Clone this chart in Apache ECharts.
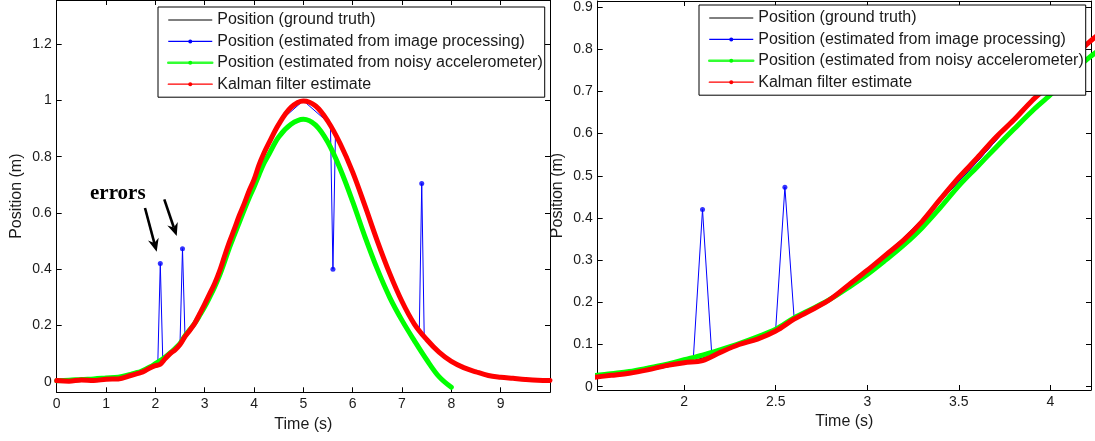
<!DOCTYPE html>
<html><head><meta charset="utf-8">
<script src="https://cdn.jsdelivr.net/npm/echarts@6/dist/echarts.min.js"></script>
<style>html,body{margin:0;padding:0;background:#fff}#c{width:1095px;height:441px}</style>
</head><body><div id="c"></div>
<script>
// ---------- data ----------
const seriesNames = ['Position (ground truth)', 'Position (estimated from image processing)', 'Position (estimated from noisy accelerometer)', 'Kalman filter estimate'];
const time = [0,0.25,0.5,0.75,1,1.25,1.5,1.6,1.7,1.8,1.9,2,2.1,2.2,2.3,2.4,2.5,2.6,2.7,2.8,2.9,3,3.1,3.2,3.3,3.4,3.5,3.6,3.7,3.8,3.9,4,4.1,4.2,4.3,4.5,4.75,5,5.25,5.5,5.75,6,6.25,6.5,6.75,7,7.25,7.5,7.75,8,8.25,8.5,8.75,9,9.25,9.5,9.75,10];
const truth = [0.000,0.001,0.002,0.003,0.006,0.011,0.020,0.024,0.030,0.038,0.046,0.056,0.068,0.081,0.097,0.114,0.134,0.158,0.183,0.212,0.243,0.277,0.314,0.354,0.396,0.440,0.486,0.533,0.582,0.630,0.678,0.726,0.771,0.814,0.855,0.923,0.980,1.000,0.980,0.923,0.840,0.740,0.620,0.495,0.382,0.282,0.203,0.148,0.104,0.071,0.049,0.034,0.022,0.015,0.011,0.007,0.005,0.003];
const kalman = [0.004,0.002,0.006,0.004,0.009,0.010,0.022,0.027,0.032,0.040,0.050,0.057,0.062,0.082,0.100,0.113,0.132,0.160,0.183,0.208,0.242,0.276,0.312,0.348,0.392,0.445,0.496,0.542,0.590,0.632,0.678,0.718,0.770,0.812,0.848,0.915,0.975,0.998,0.980,0.925,0.845,0.745,0.625,0.500,0.385,0.285,0.205,0.150,0.105,0.072,0.050,0.035,0.022,0.016,0.012,0.008,0.005,0.004];
const accelTime = [0,0.25,0.5,0.75,1,1.25,1.5,1.6,1.7,1.8,1.9,2,2.1,2.2,2.3,2.4,2.5,2.6,2.7,2.8,2.9,3,3.1,3.2,3.3,3.4,3.5,3.6,3.7,3.8,3.9,4,4.1,4.2,4.3,4.5,4.75,5,5.25,5.5,5.75,6,6.25,6.5,6.75,7,7.25,7.5,7.75,8];
const accel = [0.003,0.005,0.008,0.010,0.013,0.016,0.026,0.031,0.036,0.044,0.053,0.064,0.075,0.088,0.102,0.118,0.136,0.163,0.185,0.208,0.236,0.266,0.300,0.336,0.377,0.425,0.476,0.521,0.566,0.610,0.653,0.692,0.735,0.776,0.808,0.870,0.915,0.933,0.912,0.850,0.755,0.640,0.515,0.400,0.300,0.218,0.146,0.078,0.018,-0.020];
const imgTime = [0,0.5,1,1.5,2,2.05,2.1,2.15,2.2,2.3,2.4,2.5,2.55,2.6,2.7,2.8,3,3.2,3.4,3.6,3.8,4,4.2,4.5,5,5.5,5.55,5.6,5.65,5.75,6,6.5,7,7.25,7.35,7.4,7.45,7.5,8,8.5,9,9.5,10];
const imgPos = [0.001,0.003,0.007,0.021,0.057,0.068,0.420,0.080,0.083,0.098,0.115,0.138,0.473,0.165,0.184,0.212,0.278,0.353,0.441,0.533,0.631,0.725,0.813,0.922,0.999,0.922,0.905,0.400,0.875,0.840,0.741,0.496,0.283,0.204,0.175,0.705,0.162,0.149,0.071,0.034,0.015,0.007,0.003];
const spikeIdx = [6, 12, 27, 35];
const leftXTicks = [0,1,2,3,4,5,6,7,8,9];
const leftYTicks = [0,0.2,0.4,0.6,0.8,1,1.2];
const rightXTicks = [2,2.5,3,3.5,4];
const rightYTicks = [0,0.1,0.2,0.3,0.4,0.5,0.6,0.7,0.8,0.9];
// annotation (data coordinates of left panel)
const errorsLabelAt = [0.675, 0.632];
const arrowTails = [[1.79, 0.6175], [2.181, 0.648]];
const arrowTips = [[2.027, 0.462], [2.433, 0.518]];

// ---------- chart ----------
const FONT = '"Liberation Sans", Arial, Helvetica, sans-serif';
const TXT = '#1a1a1a';
const chart = echarts.init(document.getElementById('c'), null, {renderer: 'canvas', width: 1095, height: 441});

function xAxis(g, min, max, ticks, pos, main) {
  return {
    type: 'value', gridIndex: g, min: min, max: max, position: pos,
    axisLine: {show: true, onZero: false, lineStyle: {color: '#000', width: 1}},
    axisTick: {show: true, inside: true, length: 5, customValues: ticks, lineStyle: {color: '#000'}},
    axisLabel: {show: main, customValues: ticks, margin: 5, fontSize: 14, color: TXT, fontFamily: FONT},
    splitLine: {show: false},
    name: main ? 'Time (s)' : '', nameLocation: 'middle', nameGap: 23,
    nameTextStyle: {fontSize: 16, color: TXT, fontFamily: FONT}
  };
}
function yAxis(g, min, max, ticks, pos, main) {
  return {
    type: 'value', gridIndex: g, min: min, max: max, position: pos,
    axisLine: {show: true, onZero: false, lineStyle: {color: '#000', width: 1}},
    axisTick: {show: true, inside: true, length: 5, customValues: ticks, lineStyle: {color: '#000'}},
    axisLabel: {show: main, customValues: ticks, margin: 5, fontSize: 14, color: TXT, fontFamily: FONT},
    splitLine: {show: false},
    name: main ? 'Position (m)' : '', nameLocation: 'middle', nameGap: 32,
    nameTextStyle: {fontSize: 16, color: TXT, fontFamily: FONT}
  };
}
const pairs = (xs, ys) => xs.map((x, i) => [x, ys[i]]);

function panelSeries(ax) {
  return [
    {name: seriesNames[0], type: 'line', xAxisIndex: ax, yAxisIndex: ax, data: pairs(time, truth), smooth: 0.35,
     symbol: 'none', lineStyle: {color: '#000', width: 1}, itemStyle: {color: '#000'}, z: 2},
    {name: seriesNames[1], type: 'line', xAxisIndex: ax, yAxisIndex: ax, data: pairs(imgTime, imgPos),
     symbol: 'circle', showSymbol: false, lineStyle: {color: '#0000ff', width: 1}, itemStyle: {color: '#0000ff'}, z: 3},
    {type: 'scatter', xAxisIndex: ax, yAxisIndex: ax, data: spikeIdx.map(i => [imgTime[i], imgPos[i]]),
     symbol: 'circle', symbolSize: 5, itemStyle: {color: '#0000ff'}, z: 3},
    {name: seriesNames[2], type: 'line', xAxisIndex: ax, yAxisIndex: ax, data: pairs(accelTime, accel), smooth: 0.35,
     symbol: 'circle', showSymbol: false, lineStyle: {color: '#00ff00', width: 5, join: 'round', cap: 'round'}, itemStyle: {color: '#00ff00'}, z: 4},
    {name: seriesNames[3], type: 'line', xAxisIndex: ax, yAxisIndex: ax, data: pairs(time, kalman), smooth: 0.35,
     symbol: 'circle', showSymbol: false, lineStyle: {color: '#ff0000', width: 5, join: 'round', cap: 'round'}, itemStyle: {color: '#ff0000'}, z: 5}
  ];
}

function legend(left, top) {
  return {
    orient: 'vertical', left: left, top: top, padding: [5, 2, 5, 9],
    itemWidth: 44, itemHeight: 5, itemGap: 5.4, selectedMode: false,
    backgroundColor: '#fff', borderColor: '#000', borderWidth: 1, borderRadius: 0,
    textStyle: {fontSize: 16, color: TXT, fontFamily: FONT},
    z: 10,
    data: [
      {name: seriesNames[0], itemStyle: {opacity: 0}, lineStyle: {color: '#000', width: 1}},
      {name: seriesNames[1], itemStyle: {color: '#0000ff'}, lineStyle: {color: '#0000ff', width: 1.2}},
      {name: seriesNames[2], itemStyle: {color: '#00ff00'}, lineStyle: {color: '#33ff33', width: 2.5}},
      {name: seriesNames[3], itemStyle: {color: '#ff0000'}, lineStyle: {color: '#ff0000', width: 1.2}}
    ]
  };
}

const option = {
  animation: false,
  backgroundColor: '#fff',
  grid: [
    {left: 56.7, top: 0, width: 493.3, height: 392.3},
    {left: 597.7, top: 0, width: 493.3, height: 390}
  ],
  xAxis: [
    xAxis(0, 0, 10, leftXTicks, 'bottom', true),
    xAxis(0, 0, 10, leftXTicks, 'top', false),
    xAxis(1, 1.5275, 4.222, rightXTicks, 'bottom', true),
    xAxis(1, 1.5275, 4.222, rightXTicks, 'top', false)
  ],
  yAxis: [
    yAxis(0, -0.0377, 1.3569, leftYTicks, 'left', true),
    yAxis(0, -0.0377, 1.3569, leftYTicks, 'right', false),
    yAxis(1, -0.0078, 0.9142, rightYTicks, 'left', true),
    yAxis(1, -0.0078, 0.9142, rightYTicks, 'right', false)
  ],
  legend: [legend(158, 7), legend(699, 5)],
  series: panelSeries(0).concat(panelSeries(2))
};
chart.setOption(option);

// annotation: "errors" with two arrows, positioned in data coordinates of the left panel
const graphics = [];
const toPx = p => chart.convertToPixel({xAxisIndex: 0, yAxisIndex: 0}, p);
arrowTails.forEach((tail, k) => {
  const p0 = toPx(tail), p1 = toPx(arrowTips[k]);
  const dx = p1[0] - p0[0], dy = p1[1] - p0[1];
  const L = Math.hypot(dx, dy), ux = dx / L, uy = dy / L, nx = -uy, ny = ux;
  const headLen = 13, headW = 5.5, notch = 4;
  const bx = p1[0] - ux * headLen, by = p1[1] - uy * headLen;
  const mx = p1[0] - ux * (headLen - notch), my = p1[1] - uy * (headLen - notch);
  graphics.push({type: 'line', z: 20, shape: {x1: p0[0], y1: p0[1], x2: mx, y2: my}, style: {stroke: '#000', lineWidth: 2.6}});
  graphics.push({type: 'polygon', z: 20, shape: {points: [[p1[0], p1[1]], [bx + nx * headW, by + ny * headW], [mx, my], [bx - nx * headW, by - ny * headW]]}, style: {fill: '#000'}});
});
const tp = toPx(errorsLabelAt);
graphics.push({type: 'text', z: 20, x: tp[0], y: tp[1], style: {text: 'errors', font: 'bold 21px "Liberation Serif", "Times New Roman", serif', fill: '#000', align: 'left', verticalAlign: 'bottom'}});
chart.setOption({graphic: graphics});
</script>
</body></html>
